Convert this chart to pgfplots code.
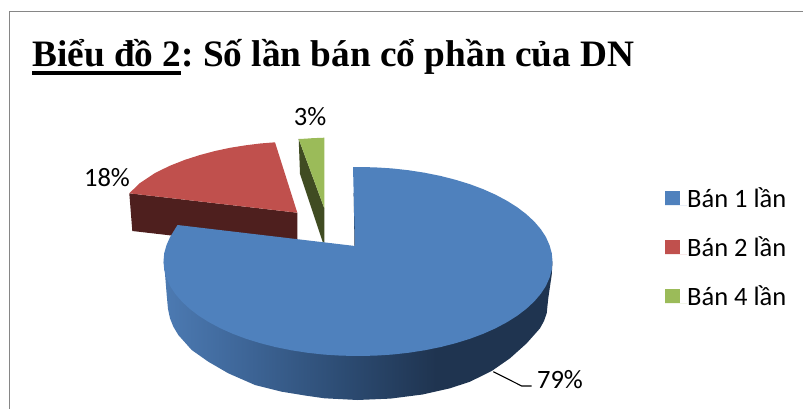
\documentclass[border=0pt]{standalone}
\usepackage{fontspec}
\setmainfont{Carlito}
\newfontfamily\titlefont{Liberation Serif}
\usepackage{pgfplots}
\pgfplotsset{compat=1.18}
\definecolor{sliceblue}{RGB}{79,129,189}
\definecolor{slicered}{RGB}{192,80,77}
\definecolor{slicegreen}{RGB}{155,187,89}
\definecolor{wallred}{RGB}{78,31,30}
\definecolor{wallgreen}{RGB}{64,76,34}
\definecolor{wallblue}{RGB}{31,52,80}
\definecolor{framegray}{RGB}{134,134,134}
% Rim of the blue slice: light on the left, dark from two thirds of the way on
\pgfdeclarehorizontalshading{blueRim}{100bp}{
  rgb(0bp)=(0.30,0.48,0.70);
  rgb(25bp)=(0.30,0.48,0.70);
  rgb(34bp)=(0.25,0.41,0.61);
  rgb(49bp)=(0.17,0.29,0.44);
  rgb(60bp)=(0.122,0.204,0.314);
  rgb(100bp)=(0.122,0.204,0.314)}
% Heavy underline sitting below the baseline
\newcommand{\heavyul}[1]{\sbox0{#1}\rlap{\rule[-7.7pt]{\wd0}{4pt}}\usebox0}
\begin{document}
\begin{tikzpicture}
\useasboundingbox (0,0) rectangle (803pt,409pt);
\begin{axis}[
  at={(0,0)}, anchor=south west,
  width=803pt, height=409pt, scale only axis,
  xmin=0, xmax=803, ymin=0, ymax=409, y dir=reverse,
  axis lines=none, clip=true,
  reverse legend,
  legend style={at={(axis cs:665,187)}, anchor=north west, draw=none, fill=none,
    font=\fontsize{26.5}{30}\selectfont, row sep=27.7pt,
    inner sep=0pt, nodes={inner sep=0pt, anchor=west}},
  legend cell align=left,
  legend image code/.code={
    \fill[#1, draw=none] (0pt,-7.3pt) rectangle (15pt,7.3pt);
    \path (0pt,-7.3pt) -- (22pt,-7.3pt);
  },
]
% Outer frame
\addplot[framegray, line width=1.4pt, forget plot] coordinates {(9.5,409) (9.5,11.5) (803,11.5)};

% Green slice: wall, then top face
\addplot[fill=wallgreen, draw=none, forget plot] coordinates {
  (298.7,139) (324.3,208.3) (324.3,243) (322.7,242) (300,174)} -- cycle;
\addplot[fill=slicegreen, draw=none] coordinates {
  (298.7,139) (305,138.7) (312,138.2) (324.3,137.7) (324.3,208.3)} -- cycle;
\addlegendentry{Bán 4 lần}

% Red slice: wall, then top face
\addplot[fill=wallred, draw=none, forget plot] coordinates {
  (129.3,193.3) (297.3,212.7) (297.3,250) (132.3,231)} -- cycle;
\addplot[fill=slicered, draw=none] coordinates {
  (297.3,212.7) (275,142.3) (260,143.5) (245,145.4) (230,147.8) (215,151.0)
  (200,155.0) (185,159.8) (170,165.7) (155,173.0) (140,183.0) (129.3,193.3)} -- cycle;
\addlegendentry{Bán 2 lần}

% Blue slice: rim, inner wall, top face
\addplot[shade, shading=blueRim, draw=none, forget plot] coordinates {
  (163.5,261.5) (164.3,265) (166.7,295) (168,309) (170,318.3) (173.5,327) (178.3,335)
  (191.7,350) (208.3,361.7) (228.3,373.3) (255,385) (281.7,391.7) (305,395.5)
  (324.5,398.3) (357.5,400) (390.5,398.6) (422.5,394.5) (450,388.3) (470,381.7)
  (491.7,371) (510,358.3) (526.7,343.3) (540,328.3) (544,321) (546.7,313.3)
  (548.3,298) (551.7,275) (552.5,261.5)} -- cycle;
\addplot[wallblue, line width=1pt, forget plot] coordinates {(354.2,193) (355,246)};
\addplot[fill=sliceblue, draw=none] coordinates {
  (355,246) (353,167.1) (358,167) (374.95,167.36) (391.8,168.4) (408.3,170.2)
  (424.5,172.7) (440.2,175.85) (455.25,179.7) (469.6,184.1) (483,189.1) (495.5,194.7)
  (507,200.8) (517.3,207.3) (526.4,214.25) (534.3,221.6) (540.8,229.2) (545.9,237)
  (549.5,245.1) (551.8,253.3) (552.5,261.5) (551.8,269.7) (549.5,277.9) (545.9,286)
  (540.8,293.8) (534.3,301.4) (526.4,308.75) (517.3,315.7) (507,322.2) (495.5,328.3)
  (483,333.9) (469.6,338.9) (455.25,343.3) (440.2,347.15) (424.5,350.3) (408.3,352.8)
  (391.8,354.6) (374.95,355.64) (358,356) (341.05,355.64) (324.2,354.6) (307.7,352.8)
  (291.5,350.3) (275.8,347.15) (260.75,343.3) (246.4,338.9) (233,333.9) (220.5,328.3)
  (209,322.2) (198.7,315.7) (189.6,308.75) (181.7,301.4) (175.2,293.8) (170.1,286)
  (166.5,277.9) (164.2,269.7) (163.5,261.5) (164.2,253.3) (166.5,245.1) (170.1,237)
  (177.5,225)} -- cycle;
\addlegendentry{Bán 1 lần}

% Leader line of the largest slice
\addplot[black, line width=1.1pt, forget plot] coordinates {(493.3,371.7) (521.7,386) (531.7,386)};

% Title and share labels
\node[anchor=base west, inner sep=0pt, font=\titlefont\bfseries\fontsize{37.3}{42}\selectfont\frenchspacing]
  at (axis cs:32,67) {\heavyul{Biểu đồ 2}: Số lần bán cổ phần của DN};
\node[font=\fontsize{26.5}{30}\selectfont, inner sep=0pt] at (axis cs:310,117) {3\%};
\node[font=\fontsize{26.5}{30}\selectfont, inner sep=0pt] at (axis cs:107,178) {18\%};
\node[font=\fontsize{26.5}{30}\selectfont, inner sep=0pt] at (axis cs:560,380) {79\%};
\end{axis}
\end{tikzpicture}
\end{document}
